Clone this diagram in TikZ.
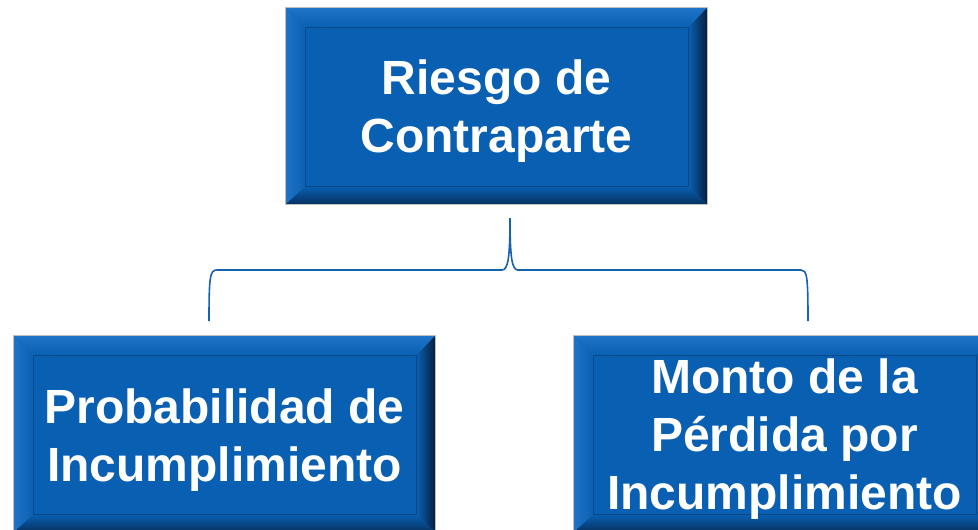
\documentclass[tikz,border=0pt]{standalone}
\usepackage{fontspec}
\setmainfont{Liberation Sans}
\usepackage{xcolor}
\usepackage{tikz}
\usetikzlibrary{calc, positioning}

\definecolor{boxblue}{RGB}{9,95,177}
\definecolor{facelight}{RGB}{32,116,200}
\definecolor{facedark}{RGB}{8,30,62}
\definecolor{bracecol}{RGB}{22,98,176}

\tikzset{
    riskbox/.style={rectangle, fill=boxblue, draw=black!25, line width=0.8pt,
        minimum width=421pt, minimum height=196pt, inner sep=0pt},
    risktext/.style={text=white, align=center, inner sep=0pt,
        font=\bfseries\fontsize{48}{58}\selectfont},
    braceline/.style={draw=bracecol, line width=1.6pt}
}

\begin{document}
\begin{tikzpicture}[x=1pt, y=-1pt]
    \clip (0, 0) rectangle (978, 530);
    \fill[white] (0, 0) rectangle (978, 530);

    \node[riskbox] (risk) at (496.5, 106) {};
    \node[riskbox] (pd) at (224.5, 434) {};
    \node[riskbox] (lgd) at (784.5, 434) {};

    % bevel faces round each box
    \foreach \b in {risk, pd, lgd} {
        \coordinate (o1) at (\b.north west);
        \coordinate (o2) at (\b.north east);
        \coordinate (o3) at (\b.south east);
        \coordinate (o4) at (\b.south west);
        \coordinate (i1) at ($(o1)+(20, 20)$);
        \coordinate (i2) at ($(o2)+(-19, 20)$);
        \coordinate (i3) at ($(o3)+(-19, -18)$);
        \coordinate (i4) at ($(o4)+(20, -18)$);
        \shade[top color=facelight, bottom color=boxblue] (o1) -- (o2) -- (i2) -- (i1) -- cycle;
        \shade[left color=facelight, right color=boxblue] (o1) -- (i1) -- (i4) -- (o4) -- cycle;
        \shade[left color=boxblue, right color=facedark] (o2) -- (o3) -- (i3) -- (i2) -- cycle;
        \shade[top color=boxblue, bottom color=facedark!70!boxblue] (o4) -- (i4) -- (i3) -- (o3) -- cycle;
        \draw[boxblue!75!black, line width=0.7pt] (i1) rectangle (i3);
        \draw[black!25, line width=0.8pt] (o1) rectangle (o3);
    }

    \node[risktext] (risklabel) at ($(risk)+(0, 5)$) {Riesgo de\\Contraparte};
    \node[risktext] (pdlabel) at ($(pd)+(0, 6)$) {Probabilidad de\\Incumplimiento};
    \node[risktext] (lgdlabel) at ($(lgd)+(0, 5)$) {Monto de la\\P\'erdida por\\Incumplimiento};

    % brace from the top box down to both boxes
    \coordinate (tip) at (510, 218);
    \coordinate (bl) at (209, 321);
    \coordinate (br) at (808, 321);
    \draw[braceline] (bl) .. controls (209, 276) and (210, 270) .. (217, 270)
        -- (502, 270) .. controls (508, 270) and (510, 258) .. (tip)
        .. controls (510, 258) and (512, 270) .. (518, 270)
        -- (801, 270) .. controls (807, 270) and (808, 276) .. (br);
\end{tikzpicture}
\end{document}
